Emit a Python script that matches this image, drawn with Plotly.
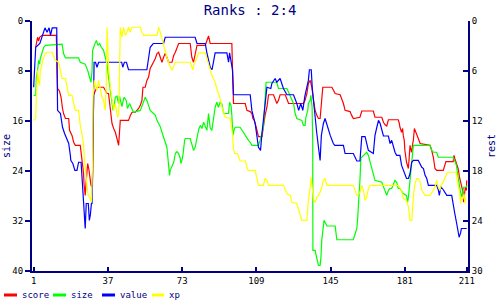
import plotly.graph_objects as go

title_text = "Ranks : 2:4"
series_names = ["score", "size", "value", "xp"]
series_colors = ["#ff0000", "#00ff00", "#0000ff", "#ffff00"]
x_ticks = [1, 37, 73, 109, 145, 181, 211]
size_ticks = [0, 8, 16, 24, 32, 40]
rest_ticks = [0, 6, 12, 18, 24, 30]

score_x = [2, 2.5, 2.9, 3.4, 3.9, 5.1, 12, 12.3, 12.6, 13.5, 14.3, 15, 15.5, 16.4, 18, 18.4, 19.6, 20.4, 21.2, 23.6,
           24, 24.4, 25.2, 25.4, 26, 26.5, 26.9, 27.2, 27.8, 28.1, 28.5, 28.8, 29.5, 29.8, 30.1, 30.6, 31.7, 34.9,
           35.7, 36.6, 37.3, 38.2, 39, 39.8, 40.6, 41.4, 42.2, 43, 47, 47.9, 48.7, 50.3, 51.1, 51.9, 52.7, 53.5, 54,
           55.1, 55.9, 56.7, 57.5, 58.4, 59.1, 60, 60.8, 61.6, 62.4, 63.2, 64, 64.8, 65.6, 66.4, 68.1, 68.9, 69.7,
           70.5, 71.3, 76.9, 77.2, 77.7, 78.5, 79.3, 79.8, 80.2, 84.2, 85, 85.8, 86.6, 97.1, 97.4, 97.9, 103.6, 104.4,
           106, 106.8, 107.3, 108, 108.9, 109.6, 110, 111.7, 112.4, 113.2, 114.1, 114.9, 117.3, 118.1, 118.9, 119.7,
           120.5, 123, 123.8, 124.6, 131.8, 132.6, 133.5, 134.2, 135.1, 135.9, 136.7, 137.5, 138.3, 139.1, 139.9,
           140.7, 141.2, 145.6, 146.3, 147.2, 149.6, 150.4, 151.2, 152, 154.4, 155.2, 156, 159.2, 160.1, 165.7, 166.5,
           169.8, 170.6, 171.4, 172.2, 173, 177.8, 178.3, 178.6, 179.4, 179.9, 180.2, 180.7, 181, 181.8, 182.7, 183.1,
           183.5, 183.8, 184.3, 184.8, 185.1, 185.6, 185.9, 186.7, 187.5, 188.4, 193.2, 194, 194.8, 195.6, 196.4,
           199.6, 200.4, 200.9, 204.4, 204.8, 205.2, 206, 206.8, 207.6, 208.4, 209.2, 209.5, 210, 210.3, 210.8, 211]
score_y = [4.2, 3.2, 2.6, 3.2, 2.6, 2.3, 2.3, 7.4, 10.8, 11.2, 12.2, 14, 14.8, 15.6, 15.6, 17.5, 18.3, 19.4, 19.9, 19.9,
           21, 22.8, 24.4, 26, 27.9, 25.5, 24.4, 22.8, 23.8, 24.4, 25.5, 26.3, 26.6, 15.6, 11.9, 11.4, 10.6, 10.6,
           11.1, 11.6, 11.6, 14.3, 16.4, 17.2, 17.8, 18.8, 19.9, 15.9, 15.9, 15.1, 14.6, 14.6, 14.3, 14, 13.5, 12.7, 10.6,
           10.6, 9.5, 9, 7.6, 7.1, 6.6, 6, 5.2, 5, 5.8, 6.6, 5.8, 5.2, 5.8, 6.6, 6.6, 5.5, 5,
           4.2, 3.6, 3.6, 4.6, 5.8, 6.6, 5.2, 4.4, 3.9, 3.9, 3.1, 2.4, 3.6, 3.6, 7.4, 13.2, 13.2, 14.3,
           14.5, 14.8, 15.6, 15.9, 17, 18, 18.5, 18.5, 16.7, 15.1, 13.8, 11.8, 11.8, 12.7, 13.2, 12.7,
           11.8, 11.8, 12.7, 13.2, 13.2, 12.7, 11.6, 10, 9.5, 10.6, 12.7, 14.3, 15.1, 15.6, 15.6,
           12.7, 10.6, 10.6, 11.1, 11.6, 11.8, 12.5, 13.2, 14.3, 14.5, 15.1, 15.6, 15.4, 14.4, 14.4, 15.4,
           15.4, 16.2, 16.6, 16.8, 15.8, 15.8, 16.4, 17, 17.8, 17.2, 18.3, 19.1, 20.7, 22.6, 23.6, 22.3,
           19.9, 20.4, 21, 19.6, 19.1, 17.2, 17.5, 18.3, 18.8, 19.6, 19.9, 20.7, 21.8, 23.6, 23.9,
           23.9, 23.1, 22.5, 22.5, 21.5, 22, 22.9, 23.6, 25.2, 26.3, 27.4, 29, 27.9, 26.6, 27.1, 25.5]

size_x = [1, 2, 2.3, 2.9, 3.4, 3.9, 4.2, 5.1, 5.9, 6.7, 14.8, 15.5, 16.4, 22.8, 23.6, 26, 27.2, 28.1, 28.8, 29.3, 29.6,
          30.4, 31.4, 32.2, 33, 33.8, 34.9, 35.7, 36.6, 37.3, 38.2, 39, 39.5, 40.2, 40.6, 41.4, 42.2, 42.6, 43.2, 43.8,
          44.3, 44.9, 45.9, 46.5, 47.5, 48.7, 49.4, 52.7, 53.5, 54.3, 55.1, 55.9, 56.7, 57.5, 59.1, 60, 60.8, 61.6,
          62.4, 63.2, 64, 64.8, 65.6, 65.9, 66.4, 66.9, 67.2, 68.1, 68.9, 69.7, 70.5, 71.3, 72.1, 72.4, 72.9, 73.4,
          73.7, 74.2, 74.5, 76.9, 77.7, 78.5, 79.3, 79.8, 80.2, 81, 81.8, 82.6, 83.4, 84.2, 85, 85.8, 86.6, 87.4, 88.2,
          89, 89.8, 90.6, 91.4, 92.3, 93.1, 95.5, 96, 96.7, 97.1, 97.6, 98.2, 98.7, 101.1, 101.9, 102.7, 103.6, 104.4,
          105.2, 106, 106.8, 110, 110.8, 112.4, 113.2, 113.7, 118.9, 119.7, 123.8, 124.6, 125.4, 126.2, 127, 127.8,
          128.6, 131, 131.8, 132.6, 133, 133.9, 134.2, 135.1, 135.4, 136, 136.3, 136.4, 137.5, 138.3, 139.1, 139.9,
          140.3, 140.7, 141.2, 141.8, 142.3, 143.2, 147.2, 147.6, 148, 156, 156.8, 157.7, 158.1, 158.5, 159, 159.2,
          159.7, 160.1, 161, 162.5, 163.3, 164.1, 164.9, 165.7, 166.5, 169.8, 170.6, 171.4, 172.2, 173, 173.8, 174.6,
          175.4, 176.2, 177, 177.8, 178.6, 179.4, 180.2, 181.8, 182.3, 182.7, 183.1, 183.5, 184.3, 184.7, 185.1,
          193.2, 194, 194.8, 196.4, 197.2, 204.4, 205.2, 206, 206.8, 207.6, 208.4, 209, 209.5, 210.8, 211]
size_y = [11.9, 11.9, 9, 7.9, 6.3, 6.9, 6, 5, 4.2, 3.9, 3.7, 5.2, 5.9, 5.9, 6.6, 6.9, 7.9, 9, 9.8, 7.9, 4.7,
          3.9, 3.1, 3.9, 3.6, 4.2, 4.7, 5.8, 6.8, 9, 11.1, 12.7, 14.3, 13.2, 12.2, 12, 13.2, 12, 12.7, 13.7,
          12.9, 12.2, 12.7, 14, 13.2, 14, 14.6, 14.3, 13.5, 12.7, 12.2, 12.7, 13.7, 14.3, 14.8, 15.1, 15.9, 16.4,
          16.9, 17.8, 18.5, 19.4, 20.2, 21.2, 22.8, 24.7, 23.9, 23.1, 22.6, 21.2, 20.9, 21.2, 22, 22.8, 22.3, 21.4,
          20.2, 19.1, 18.8, 18.8, 19.7, 20.7, 20.2, 19.3, 18.3, 17.4, 16.7, 17.2, 16.2, 17, 17.5, 14.8, 17.1, 17.5, 15.4,
          13.8, 13, 13.8, 13, 13.3, 14.8, 14.8, 13, 13.5, 15.1, 18.3, 17.4, 17, 17, 17.5, 17.8, 18.3, 18.8,
          19.1, 19.4, 19.9, 19.9, 19.1, 17, 12.7, 9.8, 9.8, 10.8, 10.8, 11.4, 12.2, 12.7, 13.2, 14.8,
          15.6, 15.9, 16.7, 16.7, 15.4, 14.3, 13.2, 12.7, 11.9, 13.7, 19, 36.7, 36.7, 38, 39.1, 39.1,
          37.8, 35.1, 33.5, 31.9, 32.2, 32.8, 32.8, 34, 35, 35, 34.3, 33.2, 31.6, 29.8, 27.6, 25.5,
          21.8, 21.8, 21.5, 21, 21.5, 22.6, 23.6, 24.7, 25.5, 25.8, 26.6, 27.4, 27.9, 27.1, 26.8, 26.8,
          26.1, 25.5, 25.8, 26.8, 26.8, 27.3, 27.6, 27.9, 29, 28.2, 26.6, 25, 22.3, 21, 19.9,
          19.9, 20.7, 21, 21, 21.8, 21.8, 22.4, 23.1, 25, 26.6, 28.2, 27.4, 26.6, 26.6, 26.3]

value_x = [1, 2, 4, 5, 6.5, 7.5, 8.5, 9.2, 10, 12.2, 12.3, 12.6, 14, 15, 16, 18, 18.8, 19, 20, 21, 22, 22.8, 24, 24.4,
           25.2, 25.7, 26, 26.5, 27.5, 28, 28.5, 29, 29.3, 29.6, 30.3, 31, 31.7, 32.5, 43.7, 44.2, 45, 46, 47, 55.9,
           56.5, 57.5, 59, 64, 64.8, 79.3, 80.2, 84.2, 85, 86.6, 87.5, 89, 94.7, 95.5, 96, 96.7, 97.4, 97.9, 106,
           106.8, 108.4, 110, 111, 111.7, 113.2, 114.1, 116, 116.5, 118.1, 118.9, 120.5, 121.5, 122.1, 123.8, 127,
           128.6, 129.5, 130.5, 131.5, 132.5, 134.2, 134.7, 135.6, 136.1, 137, 138.3, 139.1, 139.9, 140.5, 141.5,
           142.3, 143.5, 144.8, 146.3, 147, 151.2, 152, 156, 157, 157.7, 159.2, 160.1, 161.7, 162.5, 163.3, 165.7,
           166.5, 167.4, 168.2, 169, 169.8, 170.6, 173, 173.8, 174.6, 175.4, 176.2, 177, 178.6, 179.4, 180.2, 181,
           181.8, 182.7, 183.5, 184.3, 185.1, 187.5, 188.4, 189.2, 190, 190.8, 191.6, 192.4, 196.4, 197.2, 197.7,
           198.4, 199.6, 200.4, 201.3, 203.7, 204.4, 205.2, 206, 206.8, 207.3, 208, 208.4, 211]
value_y = [10.6, 4.2, 3.6, 2.6, 1.1, 1.8, 1.1, 2.3, 1.1, 1.1, 8.2, 14.3, 14.8, 17, 18, 19.6, 21.5, 22.3, 22.8, 23.9,
           23.9, 22.6, 22.6, 25, 29.2, 31.9, 33.2, 29.2, 29.2, 31.9, 31, 29.2, 29.2, 23.6, 6.6, 6.6, 7.4, 6.6, 6.6,
           7.4, 6.6, 6.6, 7.8, 7.8, 6.6, 4.2, 3.6, 3.6, 2.6, 2.6, 3.6, 3.6, 5.1, 7.4, 7.8, 5.1, 5.1, 6.6, 5.1, 6.6,
           7.8, 11.8, 11.8, 14.3, 16.4, 20.2, 20.7, 18, 13.8, 10.6, 10.8, 10, 9.2, 9.8, 9.2, 10.2, 10.8, 11.8, 11.8,
           13.2, 14.3, 13.2, 14.3, 12, 9.5, 7.8, 7.8, 10.8, 14.3, 18, 20.2, 22.3, 18.3, 16.4, 15.6, 17, 18.3, 19.6,
           19.9, 19.9, 21.2, 21.2, 21.8, 22.4, 22.4, 18.5, 18.5, 19.6, 20.7, 21.2, 18.3, 17, 15.9, 16.4, 17.5, 18.4,
           18.4, 19.6, 19.1, 20.2, 21, 21.5, 21.5, 23.1, 23.9, 24.7, 25.2, 25.2, 24.4, 22.6, 22.3, 22.3, 22.9, 23.4,
           23.6, 24.7, 25.2, 26.3, 26.3, 27, 27.9, 26.5, 27, 27.5, 27.9, 27.9, 29.5, 30.8, 32.2, 33.5, 34.6, 33.9,
           33.2, 33.2]

xp_x = [1, 2, 2.3, 2.5, 2.9, 3.4, 3.9, 4.2, 5.1, 5.9, 6.7, 7.5, 9.9, 10.7, 11.5, 13.1, 13.9, 14.8, 16.4, 17.2, 18,
        19.6, 20.4, 21.2, 22.8, 23.6, 24.4, 25.2, 25.6, 26.1, 26.5, 27, 27.4, 28.1, 28.5, 29, 29.3, 29.6, 29.8, 30.4,
        30.9, 31.7, 32.5, 33.3, 34.1, 34.9, 35.7, 36.2, 36.6, 36.9, 37.3, 38.2, 39, 39.8, 40.6, 41.1, 41.7, 42.3,
        42.6, 43, 43.8, 44.6, 45.4, 46.2, 47, 47.8, 48.7, 52.7, 53.5, 54.3, 60.8, 61.6, 62.4, 63.2, 64, 64.8, 65.6,
        66.4, 67.2, 68.1, 68.9, 69.7, 76.9, 77.7, 78.2, 78.8, 79.3, 80.2, 80.9, 84.2, 85, 85.8, 86.6, 87.4, 88.2, 89,
        89.8, 90.6, 91.4, 92.3, 93.1, 93.9, 96.3, 96.8, 97.4, 97.9, 98.5, 99.8, 100.6, 101.1, 103.6, 104.4, 104.9,
        108.4, 109.2, 110, 112.4, 113.2, 114.1, 114.9, 122.1, 123, 123.8, 125.4, 126.2, 128.6, 129.4, 130.2, 131,
        133.5, 134.2, 135.1, 135.5, 136.2, 136.7, 137.5, 138.3, 139.1, 139.9, 140.7, 141.5, 142.3, 143.2, 156,
        156.8, 157.7, 158.5, 159.2, 160.1, 160.9, 161.7, 162.5, 163.3, 164.1, 177.8, 179.4, 180.2, 181.8, 182.7,
        183.5, 184.3, 184.8, 185.4, 185.9, 186.7, 187.5, 188.4, 189.2, 190, 190.8, 193.2, 194, 194.8, 195.6, 196.4,
        197.2, 198, 198.8, 199.6, 200.4, 201.3, 202, 206, 206.3, 206.8, 207.6, 208, 208.4, 209.2, 209.7, 210.1,
        210.5]
xp_y = [15.9, 15.6, 12.2, 10.3, 7.9, 9.7, 10.3, 8.1, 6.6, 5.7, 5.2, 5, 5, 5.8, 6.3, 6.6, 7.9, 9.2, 9.2, 10.8, 11.9,
        11.9, 13.2, 14.3, 14.3, 16.7, 18, 19.9, 22.3, 23.9, 25.5, 26.6, 27.9, 28.1, 28.4, 29, 26.1, 22.3, 12.2, 9.5,
        10.3, 11.1, 9.5, 10.6, 12.2, 12.7, 14.3, 10.6, 1, 3.6, 7.4, 10.6, 12.7, 14.3, 13.2, 14.3, 15.4, 14.9,
        10.2, 1, 2.6, 1, 2.3, 1.8, 1, 1.8, 1, 1, 1.8, 2.3, 2.3, 1, 1.8, 2.9, 3.6, 4.7, 5.8,
        6.6, 7.4, 7.8, 7.1, 6.6, 6.6, 7.4, 7.8, 6.9, 6.6, 5.8, 5.1, 5.1, 6, 7.1, 7.9, 8.7, 9.2, 9.8,
        10.8, 11.6, 12.4, 13.8, 14.6, 15.4, 15.6, 16.9, 18, 20.5, 21.2, 21.2, 22, 22.4, 22.4, 23.3, 23.9,
        23.9, 25, 26.3, 26.3, 25.2, 25.5, 26.3, 26.3, 27, 27.6, 27.9, 29, 29.2, 30.2, 31.1, 31.9,
        31.9, 28.7, 26.6, 25, 27.1, 28.7, 29, 28.2, 27.9, 27.4, 26.6, 25.5, 25.2, 26.3, 26.3,
        27.1, 27.9, 27.7, 27.4, 26.3, 27.1, 28.7, 28.2, 26.8, 26.3, 26.3, 27.1, 28.4, 28.7, 29.7,
        31.9, 31.9, 29.2, 27.1, 26.1, 25.2, 25.2, 25.7, 27.1, 27.6, 27.9, 27.9, 27.4, 27.1, 26.6, 25.5,
        26.6, 27.1, 26.1, 25.8, 25.2, 24.4, 24.2, 24.2, 25.5, 26.3, 27.6, 29.2, 28.2, 28.4, 27.6, 29.2,
        28.2]

series_x = [score_x, size_x, value_x, xp_x]
series_y = [score_y, size_y, value_y, xp_y]

NAVY = "#000080"
FONT = "DejaVu Sans Mono"

W, H = 500, 300
ML, MR, MT, MB = 32, 32, 21, 29
PW, PH = W - ML - MR, H - MT - MB


def px_to_paper_x(px):
    return (px - ML) / PW


def px_to_paper_y(py):
    return (H - MB - py) / PH


fig = go.Figure()
for name, color, xs, ys in zip(series_names, series_colors, series_x, series_y):
    fig.add_trace(go.Scatter(x=xs, y=ys, mode="lines", name=name,
                             line=dict(color=color, width=1.2), showlegend=False,
                             hoverinfo="skip"))

# empty trace bound to y2 so the right axis is rendered
fig.add_trace(go.Scatter(x=[], y=[], yaxis="y2", showlegend=False, hoverinfo="skip"))

# custom legend (layout only)
legend_pos = [(4, 17, 20), (53, 66, 69), (102, 115, 118), (152, 164, 167)]
shapes = []
annotations = []
for (x0, x1, tx), name, color in zip(legend_pos, series_names, series_colors):
    yy = px_to_paper_y(295)
    shapes.append(dict(type="line", xref="paper", yref="paper",
                       x0=px_to_paper_x(x0), x1=px_to_paper_x(x1), y0=yy, y1=yy,
                       line=dict(color=color, width=3)))
    annotations.append(dict(text=name, xref="paper", yref="paper", x=px_to_paper_x(tx), y=yy,
                            xanchor="left", yanchor="middle", showarrow=False,
                            font=dict(family=FONT, size=9, color=NAVY)))

fig.update_layout(
    width=W, height=H,
    margin=dict(l=ML, r=MR, t=MT, b=MB, autoexpand=False),
    paper_bgcolor="white", plot_bgcolor="white",
    title=dict(text=title_text, x=0.5, xanchor="center", y=1 - 10 / H, yanchor="middle",
               font=dict(family=FONT, size=14, color=NAVY)),
    xaxis=dict(range=[0.2, 211.6], tickvals=x_ticks, ticktext=[str(t) for t in x_ticks],
               ticks="inside", ticklen=4, tickwidth=2, tickcolor=NAVY,
               showline=True, linecolor=NAVY, linewidth=2, showgrid=False, zeroline=False,
               tickfont=dict(family=FONT, size=9, color="black")),
    yaxis=dict(range=[40, 0], tickvals=size_ticks, ticks="outside", ticklen=5, tickwidth=2,
               tickcolor=NAVY, showline=True, linecolor=NAVY, linewidth=2, showgrid=False,
               zeroline=False, tickfont=dict(family=FONT, size=9, color="black"),
               title=dict(text="size", font=dict(family=FONT, size=10, color=NAVY), standoff=0)),
    yaxis2=dict(range=[30, 0], tickvals=rest_ticks, overlaying="y", side="right",
                ticks="inside", ticklen=5, tickwidth=2, tickcolor=NAVY,
                showline=True, linecolor=NAVY, linewidth=2, showgrid=False, zeroline=False,
                tickfont=dict(family=FONT, size=9, color="black"),
                title=dict(text="rest", font=dict(family=FONT, size=10, color=NAVY), standoff=6)),
    shapes=shapes, annotations=annotations,
)

fig.write_html("out.html")
